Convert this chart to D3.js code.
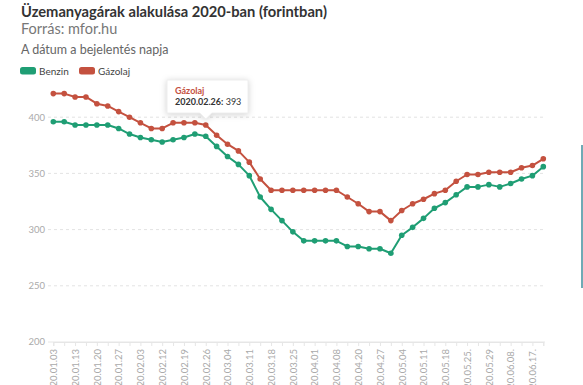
<!DOCTYPE html>
<html>
<head>
<meta charset="utf-8">
<script src="https://cdn.jsdelivr.net/npm/d3@7"></script>
<style>
  html, body { margin: 0; padding: 0; background: #fff; }
  svg { display: block; font-family: Lato, "Open Sans", sans-serif; }
</style>
</head>
<body>
<svg id="chart" width="583" height="385"></svg>
<script>
const dates = [
  "2020.01.03","2020.01.08","2020.01.13","2020.01.15","2020.01.20","2020.01.22",
  "2020.01.27","2020.01.29","2020.02.03","2020.02.05","2020.02.12","2020.02.14",
  "2020.02.19","2020.02.21","2020.02.26","2020.02.28","2020.03.04","2020.03.06",
  "2020.03.11","2020.03.13","2020.03.18","2020.03.20","2020.03.25","2020.03.27",
  "2020.04.01","2020.04.03","2020.04.08","2020.04.15","2020.04.20","2020.04.22",
  "2020.04.27","2020.04.29","2020.05.04","2020.05.06","2020.05.11","2020.05.13",
  "2020.05.18","2020.05.20","2020.05.25.","2020.05.27","2020.05.29","2020.06.03",
  "2020.06.08.","2020.06.12","2020.06.17.","2020.06.19"
];
const benzin = [
  396,396,393,393,393,393,390,385,382,380,378,380,382,385,383,374,
  365,358,348,329,318,308,298,290,290,290,290,285,285,283,283,279,
  295,302,310,319,324,331,338,338,340,338,341,345,348,356
];
const gazolaj = [
  421,421,418,418,412,410,405,400,395,390,390,395,395,395,393,384,
  376,370,360,345,335,335,335,335,335,335,335,329,323,316,316,308,
  317,323,327,332,335,343,349,349,351,351,351,355,357,363
];
const yTicks = [200, 250, 300, 350, 400];
const seriesNames = ["Benzin", "Gázolaj"];
const colors = ["#1f9e74", "#c4513f"];

const svg = d3.select("#chart");
const gLeft = 48, gRight = 545, gBottom = 342;

const x = d3.scalePoint().domain(dates).range([53.3, 543.3]);
const y = d3.scaleLinear().domain([200, 400]).range([gBottom, 117.2]);

// Titles
svg.append("text").attr("x", 21).attr("y", 17)
  .attr("font-size", 14.7).attr("font-weight", 700).attr("fill", "#333")
  .text("Üzemanyagárak alakulása 2020-ban (forintban)");
svg.append("text").attr("x", 21).attr("y", 34)
  .attr("font-size", 14.5).attr("fill", "#777")
  .text("Forrás: mfor.hu");
svg.append("text").attr("x", 21).attr("y", 54)
  .attr("font-size", 12.5).attr("fill", "#666")
  .text("A dátum a bejelentés napja");

// Legend
const legX = [20, 79];
seriesNames.forEach((n, i) => {
  svg.append("rect").attr("x", legX[i]).attr("y", 67).attr("width", 16).attr("height", 7.5)
    .attr("rx", 2.5).attr("fill", colors[i]);
  svg.append("text").attr("x", legX[i] + 19).attr("y", 74.5)
    .attr("font-size", 10).attr("fill", "#444").text(n);
});

// Grid
const grid = svg.append("g");
yTicks.forEach(t => {
  grid.append("line").attr("x1", gLeft).attr("x2", gRight)
    .attr("y1", y(t)).attr("y2", y(t))
    .attr("stroke", t === 200 ? "#e6e6e6" : "#e3e3e3")
    .attr("stroke-dasharray", t === 200 ? null : "3,3");
  grid.append("text").attr("x", 45).attr("y", y(t)).attr("dy", "0.35em")
    .attr("text-anchor", "end").attr("font-size", 9.5).attr("fill", "#aaa").text(t);
});

// X axis
const xAxis = d3.axisBottom(x).tickSize(4).tickFormat((d, i) => i % 2 === 0 ? d : "");
const gx = svg.append("g").attr("transform", `translate(0,${gBottom})`).call(xAxis);
gx.select(".domain").attr("stroke", "#e6e6e6");
gx.selectAll(".tick line").attr("stroke", "#e6e6e6");
gx.selectAll(".tick text")
  .attr("transform", "rotate(-90)")
  .attr("x", -7).attr("y", 0).attr("dy", "0.35em")
  .attr("text-anchor", "end")
  .attr("font-size", 9.5).attr("fill", "#aaa")
  .attr("font-family", "Lato, sans-serif");

// Lines
const series = [benzin, gazolaj];
series.forEach((vals, i) => {
  const line = d3.line().x((d, j) => x(dates[j])).y(d => y(d));
  svg.append("path").datum(vals).attr("d", line)
    .attr("fill", "none").attr("stroke", colors[i]).attr("stroke-width", 2)
    .attr("stroke-linejoin", "round");
  svg.append("g").selectAll("circle").data(vals).join("circle")
    .attr("cx", (d, j) => x(dates[j])).attr("cy", d => y(d)).attr("r", 2.8)
    .attr("fill", colors[i]);
});

// Tooltip
const tipIdx = 14;
const tx = x(dates[tipIdx]);
const tip = svg.append("g");
tip.append("path")
  .attr("d", `M167,80 H248 V113 H${tx + 6} L${tx},119 L${tx - 6},113 H167 Z`)
  .attr("fill", "#fff").attr("stroke", "#eee")
  .style("filter", "drop-shadow(0 1px 3px rgba(0,0,0,0.18))");
tip.append("text").attr("x", 175).attr("y", 94)
  .attr("font-size", 9).attr("font-weight", 700).attr("fill", colors[1]).text(seriesNames[1]);
const t2 = tip.append("text").attr("x", 175).attr("y", 105).attr("font-size", 9).attr("fill", "#333");
t2.append("tspan").attr("font-weight", 700).text(dates[tipIdx] + ":");
t2.append("tspan").text(" " + gazolaj[tipIdx]);

// right edge decoration
svg.append("line").attr("x1", 582).attr("x2", 582).attr("y1", 145).attr("y2", 288)
  .attr("stroke", "#3f8e9c").attr("stroke-width", 1.5);
</script>
</body>
</html>
